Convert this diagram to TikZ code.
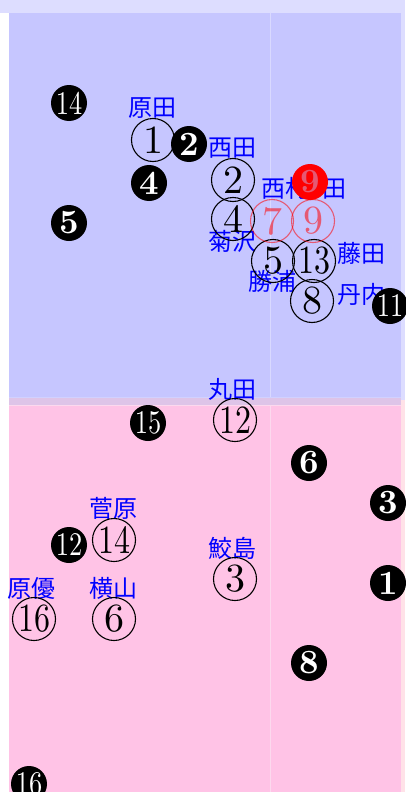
\documentclass[tikz,border=0pt]{standalone}
\usepackage{fontspec}
\usepackage{graphicx}
\newfontfamily\jfont{Noto Sans CJK JP}
\newfontfamily\digfont{lmroman10-regular}[Extension=.otf,BoldFont=lmroman10-bold]
\definecolor{fieldtop}{RGB}{221,221,255}
\definecolor{fieldblue}{RGB}{198,198,255}
\definecolor{fieldpink}{RGB}{255,195,230}
\definecolor{fieldmix}{RGB}{222,196,232}
\definecolor{fieldedge}{RGB}{255,226,232}
\definecolor{markred}{RGB}{255,0,0}
\newcommand{\twodig}[1]{\scalebox{0.8}[1]{#1}}
\tikzset{
  own/.style={circle,draw=black,line width=1.1pt,minimum size=43pt,inner sep=0pt,
              font=\digfont\fontsize{40}{40}\selectfont},
  opp/.style={circle,fill=black,text=white,minimum size=36pt,inner sep=0pt,
              font=\digfont\fontsize{34}{34}\selectfont\bfseries},
  opptwo/.style={opp,font=\digfont\fontsize{33}{33}\selectfont},
  ghost/.style={own,draw=markred,text=markred,opacity=0.55},
  pname/.style={text=blue,font=\jfont\fontsize{24}{24}\selectfont,inner sep=0pt},
}
\begin{document}
\begin{tikzpicture}[x=1pt,y=-1pt]
\useasboundingbox (0,0) rectangle (405,792);
% field
\fill[fieldtop] (0,0) rectangle (405,13);
\fill[fieldtop] (401,13) rectangle (405,400);
\fill[fieldedge] (401,400) rectangle (405,792);
\fill[fieldblue] (9,13) rectangle (401,405);
\fill[fieldpink] (9,397) rectangle (401,792);
\fill[fieldmix] (9,397) rectangle (401,405);
\draw[blue!18,line width=0.6pt] (9,397) -- (401,397);
\draw[magenta!15,line width=0.6pt] (9,405) -- (401,405);
\draw[blue!15,line width=0.6pt] (270,13) -- (270,397);
\draw[magenta!15,line width=0.6pt] (270,405) -- (270,792);
% names
\node[pname] (nharada) at (152,108) {原田};
\node[pname] (nnishida) at (232,148) {西田};
\node[pname] (nnishimura) at (285,188) {西村};
\node[pname] (nkishida) at (322,188) {岸田};
\node[pname] (nkikuzawa) at (232,241) {菊沢};
\node[pname] (nfujita) at (361,253) {藤田};
\node[pname] (nkatsuura) at (272,281) {勝浦};
\node[pname] (nnitanai) at (361,294) {丹内};
\node[pname] (nmaruta) at (232,389) {丸田};
\node[pname] (nsugawara) at (113,508) {菅原};
\node[pname] (nsameshima) at (232,548) {鮫島};
\node[pname] (nharayu) at (32,588) {原優};
\node[pname] (nyokoyama) at (113,588) {横山};
% own side
\node[own] (o1) at (153,140) {1};
\node[own] (o2) at (233,180) {2};
\node[own] (o4) at (233,219) {4};
\node[own] (o5) at (273,261) {5};
\node[own] (o13) at (314,261) {\twodig{13}};
\node[own] (o8) at (312,301) {8};
\node[own] (o12) at (235,420) {\twodig{12}};
\node[own] (o14) at (114,540) {\twodig{14}};
\node[own] (o3) at (235,579) {3};
\node[own] (o16) at (34,619) {\twodig{16}};
\node[own] (o6) at (114,619) {6};
\node[ghost] (g7) at (272,221) {7};
\node[ghost] (g9) at (313,221) {9};
% other side
\node[opptwo] (p14) at (69,103) {\twodig{14}};
\node[opp] (p2) at (189,144) {2};
\node[opp] (p4) at (149,183) {4};
\node[opp] (p5) at (69,223) {5};
\node[opp,fill=markred,text=markred!55!fieldblue] (p9) at (310,182) {9};
\node[opptwo] (p11) at (390,306) {\twodig{11}};
\node[opptwo] (p15) at (148,423) {\twodig{15}};
\node[opp] (p6) at (309,463) {6};
\node[opp] (p3) at (388,503) {3};
\node[opptwo] (p12) at (69,545) {\twodig{12}};
\node[opp] (p1) at (388,583) {1};
\node[opp] (p8) at (309,663) {8};
\node[opptwo] (p16) at (29,784) {\twodig{16}};
\end{tikzpicture}
\end{document}
